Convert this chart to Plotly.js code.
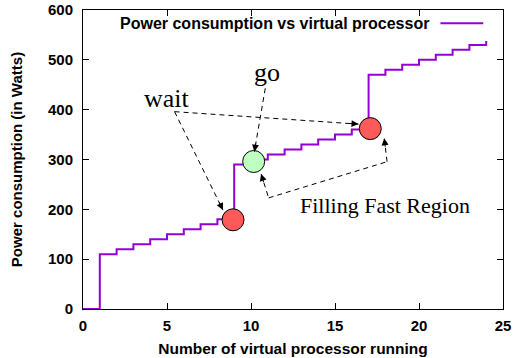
<!DOCTYPE html>
<html>
<head>
<meta charset="utf-8">
<script src="https://cdn.plot.ly/plotly-3.0.1.min.js"></script>
<style>html,body{margin:0;padding:0;background:#fff;}#chart{width:514px;height:358px;}</style>
</head>
<body>
<div id="chart"></div>
<script>
// Data
var vprocs = [0,1,2,3,4,5,6,7,8,9,10,11,12,13,14,15,16,17,18,19,20,21,22,23,24];
var power  = [0,110,120,130,140,150,160,170,180,290,300,310,320,330,340,350,360,470,480,490,500,510,520,530,538];
var waitX = [8.93, 17.1];
var waitY = [179, 362];
var goX = [10.16];
var goY = [296];
var seriesName = 'Power consumption vs virtual processor';
var xTickVals = [0,5,10,15,20,25];
var yTickVals = [0,100,200,300,400,500,600];

var purple = '#9400d3';
var traces = [
  {x: vprocs, y: power, mode: 'lines', line: {shape: 'hv', color: purple, width: 2}, name: seriesName, showlegend: false},
  {x: waitX, y: waitY, mode: 'markers', marker: {size: 22, color: '#ff5a5a', line: {color: '#000', width: 1}}, showlegend: false},
  {x: goX, y: goY, mode: 'markers', marker: {size: 22, color: '#bfffbf', line: {color: '#000', width: 1}}, showlegend: false}
];

var axFont = {family: 'Liberation Sans, Arial, sans-serif', size: 15, color: '#000', weight: 'bold'};
var xTitleFont = {family: 'Liberation Sans, Arial, sans-serif', size: 15.5, color: '#000', weight: 'bold'};
var yTitleFont = {family: 'Liberation Sans, Arial, sans-serif', size: 15, color: '#000', weight: 'bold'};
var serifBig = {family: 'Liberation Serif, Times New Roman, serif', size: 26, color: '#000'};
var serif = {family: 'Liberation Serif, Times New Roman, serif', size: 22, color: '#000'};

function dash(x0,y0,x1,y1){
  return {type:'line', xref:'x', yref:'y', x0:x0, y0:y0, x1:x1, y1:y1, line:{color:'#000', width:1, dash:'5px,4px'}};
}
function head(x,y,ax,ay){
  return {x:x, y:y, xref:'x', yref:'y', ax:ax, ay:ay, text:'', showarrow:true, arrowhead:2, arrowsize:1.4, arrowwidth:1, arrowcolor:'#000', standoff:0};
}

var layout = {
  width: 514, height: 358,
  margin: {l: 83, r: 11, t: 10, b: 49, pad: 0},
  paper_bgcolor: '#fff', plot_bgcolor: '#fff',
  showlegend: false,
  xaxis: {
    range: [0, 25], tickvals: xTickVals, ticks: 'inside', ticklen: 6, tickcolor: '#000', tickwidth: 1,
    showline: true, linecolor: '#000', linewidth: 1, mirror: 'allticks', showgrid: false, zeroline: false,
    ticklabelstandoff: 3,
    tickfont: axFont, title: {text: 'Number of virtual processor running', font: xTitleFont, standoff: 10}
  },
  yaxis: {
    range: [0, 600], tickvals: yTickVals, ticks: 'inside', ticklen: 6, tickcolor: '#000', tickwidth: 1,
    showline: true, linecolor: '#000', linewidth: 1, mirror: 'allticks', showgrid: false, zeroline: false,
    ticklabelstandoff: 6,
    tickfont: axFont, title: {text: 'Power consumption (in Watts)', font: yTitleFont, standoff: 21}
  },
  shapes: [
    dash(5.45, 396, 8.33, 198.5),
    dash(5.45, 396, 16.40, 371),
    dash(10.85, 443, 10.20, 315.7),
    dash(10.6, 271, 11.05, 223),
    dash(11.05, 223, 18.1, 295.6),
    dash(18.1, 295.6, 17.93, 342.6),
    {type:'line', xref:'paper', yref:'paper', x0:0.851, x1:0.953, y0:0.956, y1:0.956, line:{color:purple, width:2}}
  ],
  annotations: [
    head(8.33, 198.5, -4.4, -9.0),
    head(16.40, 371, -10, -0.7),
    head(10.20, 315.7, 1.7, -9.9),
    head(10.6, 271, 3.0, 9.5),
    head(17.93, 342.6, 1.2, 9.9),
    {x: 5.0, y: 423, xref:'x', yref:'y', text:'wait', showarrow:false, font: serifBig},
    {x: 10.93, y: 474, xref:'x', yref:'y', text:'go', showarrow:false, font: serifBig},
    {x: 18.0, y: 208, xref:'x', yref:'y', text:'Filling Fast Region', showarrow:false, font: serif},
    {x: 0.829, y: 0.956, xref:'paper', yref:'paper', xanchor:'right', yanchor:'middle', text: seriesName, showarrow:false,
     font: {family: 'Liberation Sans, Arial, sans-serif', size: 16, color: '#000', weight: 'bold'}}
  ]
};

Plotly.newPlot('chart', traces, layout, {displayModeBar: false, staticPlot: true});
</script>
</body>
</html>
